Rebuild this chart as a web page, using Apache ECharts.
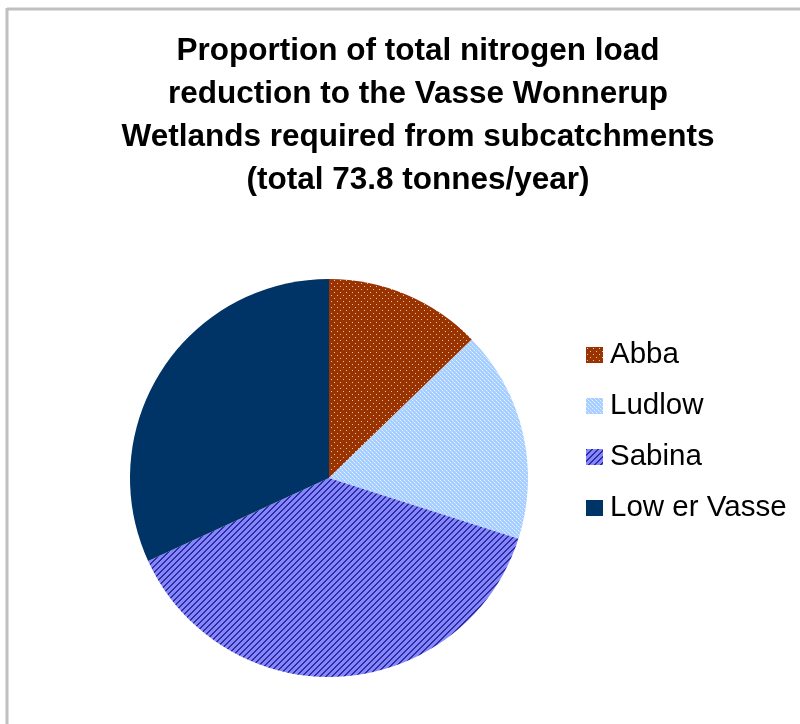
<!DOCTYPE html>
<html>
<head>
<meta charset="utf-8">
<script src="https://cdn.jsdelivr.net/npm/echarts@6/dist/echarts.min.js"></script>
<style>
html,body{margin:0;padding:0;background:#fff;}
#chart{width:800px;height:724px;}
</style>
</head>
<body>
<div id="chart"></div>
<script>
const titleLines = [
  'Proportion of total nitrogen load',
  'reduction to the Vasse Wonnerup',
  'Wetlands required from subcatchments',
  '(total 73.8 tonnes/year)'
];
const categories = ['Abba', 'Ludlow', 'Sabina', 'Low er Vasse'];
const loads = [9.4, 12.7, 28.2, 23.5];

function tile(w, h, draw) {
  const c = document.createElement('canvas');
  c.width = w; c.height = h;
  const ctx = c.getContext('2d');
  draw(ctx, w, h);
  return c;
}
// Abba: brown with light dots
const abbaPat = tile(6, 6, (ctx, w, h) => {
  ctx.fillStyle = '#993300'; ctx.fillRect(0, 0, w, h);
  ctx.fillStyle = '#e6c2b0';
  ctx.fillRect(1, 1, 1, 1);
  ctx.fillRect(4, 4, 1, 1);
});
// Ludlow: light blue lattice
const ludlowPat = tile(4, 4, (ctx, w, h) => {
  ctx.fillStyle = '#a6cfff'; ctx.fillRect(0, 0, w, h);
  ctx.fillStyle = '#e4f0ff';
  ctx.fillRect(0, 0, 1, 1);
  ctx.fillRect(2, 2, 1, 1);
  ctx.fillStyle = '#c6e0ff';
  ctx.fillRect(1, 1, 1, 1);
  ctx.fillRect(3, 3, 1, 1);
});
// Sabina: diagonal stripes
const sabinaPat = tile(6, 6, (ctx, w, h) => {
  ctx.fillStyle = '#8585ff'; ctx.fillRect(0, 0, w, h);
  ctx.fillStyle = '#2e2e99';
  for (let i = 0; i < 6; i++) {
    ctx.fillRect((5 - i + 6) % 6, i, 1, 1);
    ctx.fillRect((6 - i + 6) % 6, i, 1, 1);
  }
});
const fills = [
  {image: abbaPat, repeat: 'repeat'},
  {image: ludlowPat, repeat: 'repeat'},
  {image: sabinaPat, repeat: 'repeat'},
  '#003366'
];

const chart = echarts.init(document.getElementById('chart'), null, {renderer: 'canvas'});
chart.setOption({
  animation: false,
  backgroundColor: '#ffffff',
  graphic: [
    {type: 'line', shape: {x1: 7, y1: 9, x2: 800, y2: 9}, style: {stroke: '#c0c0c0', lineWidth: 3}},
    {type: 'line', shape: {x1: 7, y1: 8, x2: 7, y2: 724}, style: {stroke: '#c0c0c0', lineWidth: 3}}
  ],
  title: {
    text: titleLines.join('\n'),
    left: 413,
    top: 25,
    textAlign: 'center',
    textStyle: {
      fontFamily: 'Liberation Sans, Arial, sans-serif',
      fontWeight: 'bold',
      fontSize: 31.5,
      lineHeight: 43,
      color: '#000'
    }
  },
  legend: {
    orient: 'vertical',
    left: 581,
    top: 335,
    itemWidth: 17,
    itemHeight: 16,
    itemGap: 21,
    icon: 'rect',
    textStyle: {
      fontFamily: 'Liberation Sans, Arial, sans-serif',
      fontSize: 29.5,
      lineHeight: 30,
      color: '#000',
      padding: [0, 0, 0, 2]
    },
    data: categories
  },
  series: [{
    type: 'pie',
    center: [329, 478],
    radius: 199,
    startAngle: 90,
    clockwise: true,
    label: {show: false},
    labelLine: {show: false},
    emphasis: {disabled: true},
    itemStyle: {borderWidth: 0},
    data: categories.map((n, i) => ({name: n, value: loads[i], itemStyle: {color: fills[i]}}))
  }]
});
</script>
</body>
</html>
